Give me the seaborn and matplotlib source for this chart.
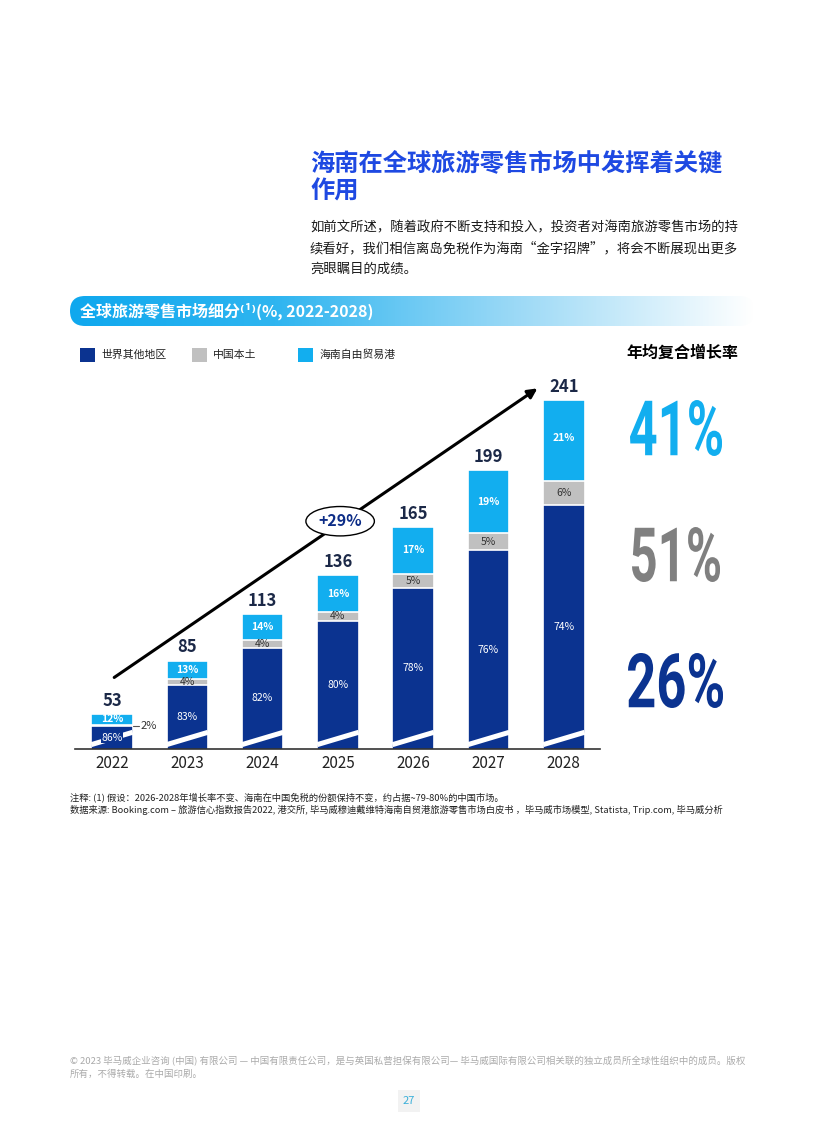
import numpy as np
import pandas as pd
import matplotlib
matplotlib.use("Agg")
import matplotlib.pyplot as plt
import seaborn as sns
from matplotlib.patches import Rectangle, FancyBboxPatch, PathPatch
from matplotlib.colors import LinearSegmentedColormap
from matplotlib.textpath import TextPath
from matplotlib.font_manager import FontProperties
from matplotlib.transforms import Affine2D

# ---- data ----
years = ["2022", "2023", "2024", "2025", "2026", "2027", "2028"]
totals = [53, 85, 113, 136, 165, 199, 241]
rest_pct = [86, 83, 82, 80, 78, 76, 74]      # 世界其他地区
china_pct = [2, 4, 4, 4, 5, 5, 6]            # 中国本土
hainan_pct = [12, 13, 14, 16, 17, 19, 21]    # 海南自由贸易港
series_names = ["世界其他地区", "中国本土", "海南自由贸易港"]
cagr_labels = ["41%", "51%", "26%"]
growth_label = "+29%"

DARK = "#0B3390"
GREY = "#C0C0C0"
CYAN = "#12AEEF"
NAVY_TXT = "#1B2847"
TITLE_BLUE = "#1E49E2"

W, H = 816, 1145

sns.set_theme(style="white")
plt.rcParams["font.family"] = ["Noto Sans CJK SC", "DejaVu Sans"]

df = pd.DataFrame({"year": years, "total": totals,
                   "rest": rest_pct, "china": china_pct, "hainan": hainan_pct})
df["rest_v"] = df["total"] * df["rest"] / 100
df["china_v"] = df["total"] * df["china"] / 100
df["hainan_v"] = df["total"] * df["hainan"] / 100
df["cum_china"] = df["rest_v"] + df["china_v"]

fig = plt.figure(figsize=(W / 100, H / 100), dpi=100)

# page layer in pixel coordinates (y down)
page = fig.add_axes([0, 0, 1, 1], zorder=0)
page.set_xlim(0, W)
page.set_ylim(H, 0)
page.axis("off")

# ---- heading and intro ----
page.text(310, 163, "海南在全球旅游零售市场中发挥着关键", fontsize=17.5,
          weight="bold", color=TITLE_BLUE, va="center")
page.text(310, 192, "作用", fontsize=17.5, weight="bold", color=TITLE_BLUE, va="center")
intro = ["如前文所述，随着政府不断支持和投入，投资者对海南旅游零售市场的持",
         "续看好，我们相信离岛免税作为海南“金字招牌”，将会不断展现出更多",
         "亮眼瞩目的成绩。"]
for k, line in enumerate(intro):
    page.text(310, 227 + 21 * k, line, fontsize=9.6, color="#1a1a1a", va="center")

# ---- gradient band ----
bl, bt, bw, bh = 70, 296, 684, 30
band = fig.add_axes([bl / W, 1 - (bt + bh) / H, bw / W, bh / H], zorder=1)
band.set_xlim(0, bw)
band.set_ylim(0, bh)
band.axis("off")
band_cmap = LinearSegmentedColormap.from_list(
    "band", [(0, "#0FA8EE"), (0.3, "#2FB5F0"), (0.65, "#9BD9F6"), (1, "#FFFFFF")])
im = band.imshow(np.linspace(0, 1, 256)[None, :], extent=(0, bw, 0, bh),
                 aspect="auto", cmap=band_cmap)
clip = FancyBboxPatch((0, 0), bw, bh, boxstyle=f"round,pad=0,rounding_size={bh / 2}",
                      transform=band.transData, fc="none", ec="none")
band.add_patch(clip)
im.set_clip_path(clip)
band.text(10, bh / 2, "全球旅游零售市场细分⁽¹⁾(%, 2022-2028)", color="white",
          fontsize=11.5, weight="bold", va="center")

# ---- legend ----
colors = [DARK, GREY, CYAN]
for name, col, x in zip(series_names, colors, [80, 192, 298]):
    page.add_patch(Rectangle((x, 348), 15, 14, fc=col, ec="none"))
    page.text(x + 21, 355, name, fontsize=7.8, color="#222222", va="center")

page.text(682, 353, "年均复合增长率", fontsize=11.5, weight="bold",
          color="black", ha="center", va="center")

# ---- big CAGR numbers (condensed by horizontal scaling) ----
big_boxes = [(630, 400, 722, 456), (632, 527, 720, 582), (628, 653, 723, 708)]
big_colors = [CYAN, "#808080", DARK]
fp = FontProperties(family="Roboto", weight="bold")
for s, (x0, y0, x1, y1), col in zip(cagr_labels, big_boxes, big_colors):
    tp = TextPath((0, 0), s, size=100, prop=fp)
    ext = tp.get_extents()
    tr = (Affine2D().translate(-ext.x0, -ext.y0)
          .scale((x1 - x0) / ext.width, -(y1 - y0) / ext.height)
          .translate(x0, y1))
    page.add_patch(PathPatch(tr.transform_path(tp), fc=col, lw=0))

# ---- chart ----
L, R, base, top = 75, 600, 749, 370
ax = fig.add_axes([L / W, 1 - base / H, (R - L) / W, (base - top) / H], zorder=2)
ax.patch.set_alpha(0)
y0 = 32.1
ppu = 1.67  # pixels per unit
ax.set_ylim(y0, y0 + (base - top) / ppu)
bar_w = 0.55

sns.barplot(data=df, x="year", y="total", color=CYAN, width=bar_w, ax=ax,
            errorbar=None, saturation=1, edgecolor="white", linewidth=1.2)
sns.barplot(data=df, x="year", y="cum_china", color=GREY, width=bar_w, ax=ax,
            errorbar=None, saturation=1, edgecolor="white", linewidth=1.2)
sns.barplot(data=df, x="year", y="rest_v", color=DARK, width=bar_w, ax=ax,
            errorbar=None, saturation=1, edgecolor="white", linewidth=1.2)
ax.set_xlim(-0.49, len(years) - 1 + 0.48)

# axis-break slashes near the bottom of each bar
for i in range(len(years)):
    ax.plot([i - bar_w / 2, i + bar_w / 2], [y0 + 2.6, y0 + 10], color="white",
            lw=3.6, solid_capstyle="butt", zorder=3)

for i, row in df.iterrows():
    ax.text(i, row["cum_china"] + row["hainan_v"] / 2, f"{row['hainan']}%",
            color="white", fontsize=7.5, weight="bold", ha="center", va="center", zorder=5)
    if i > 0:
        ax.text(i, row["rest_v"] + row["china_v"] / 2, f"{row['china']}%",
                color="#333333", fontsize=7.5, ha="center", va="center", zorder=5)
    ax.text(i, (y0 + row["rest_v"]) / 2, f"{row['rest']}%", color="white",
            fontsize=7.5, ha="center", va="center", zorder=5,
            bbox=dict(boxstyle="square,pad=0.05", fc=DARK, ec="none"))
    ax.annotate(str(row["total"]), (i, row["total"]), xytext=(0, 3),
                textcoords="offset points", ha="center", va="bottom",
                fontsize=12, weight="bold", color=NAVY_TXT)

# 2022 china share placed outside with a leader line
yc = df.loc[0, "rest_v"] + df.loc[0, "china_v"] / 2
ax.plot([bar_w / 2, bar_w / 2 + 0.09], [yc, yc], color="#555555", lw=0.8)
ax.text(bar_w / 2 + 0.1, yc - 0.5, f"{china_pct[0]}%", color="#333333",
        fontsize=8, ha="left", va="center")

# growth arrow with CAGR bubble
start = (0, totals[0] + 21)
end = (len(years) - 1 - 0.32, totals[-1] + 8)
ax.annotate("", xy=end, xytext=start,
            arrowprops=dict(arrowstyle="-|>", lw=2.2, color="black", mutation_scale=14),
            zorder=4)
ax.text(3.03, 168.5, growth_label, fontsize=11.5, weight="bold", color="#0D2D87",
        ha="center", va="center", zorder=6,
        bbox=dict(boxstyle="ellipse,pad=0.15", fc="white", ec="black", lw=1))

ax.set_xlabel("")
ax.set_ylabel("")
ax.set_yticks([])
ax.tick_params(axis="x", length=0, pad=4, labelsize=11, labelcolor="#222222")
for s in ["top", "right", "left"]:
    ax.spines[s].set_visible(False)
ax.spines["bottom"].set_color("#333333")
ax.spines["bottom"].set_linewidth(1.2)

# ---- footnotes ----
page.text(70, 797, "注释: (1) 假设：2026-2028年增长率不变、海南在中国免税的份额保持不变，约占据~79-80%的中国市场。",
          fontsize=6.7, color="#222222", va="center")
page.text(70, 810, "数据来源: Booking.com – 旅游信心指数报告2022, 港交所, 毕马威穆迪戴维特海南自贸港旅游零售市场白皮书 ，毕马威市场模型, Statista, Trip.com, 毕马威分析",
          fontsize=6.7, color="#222222", va="center")

page.text(70, 1061, "© 2023 毕马威企业咨询 (中国) 有限公司 — 中国有限责任公司，是与英国私营担保有限公司— 毕马威国际有限公司相关联的独立成员所全球性组织中的成员。版权",
          fontsize=6.8, color="#AAAAAA", va="center")
page.text(70, 1074, "所有，不得转载。在中国印刷。", fontsize=6.8, color="#AAAAAA", va="center")

page.add_patch(Rectangle((398, 1090), 22, 22, fc="#F2F2F2", ec="none"))
page.text(409, 1101, "27", fontsize=8, color="#3AAFD9", ha="center", va="center")

fig.savefig("out.png", dpi=100)
